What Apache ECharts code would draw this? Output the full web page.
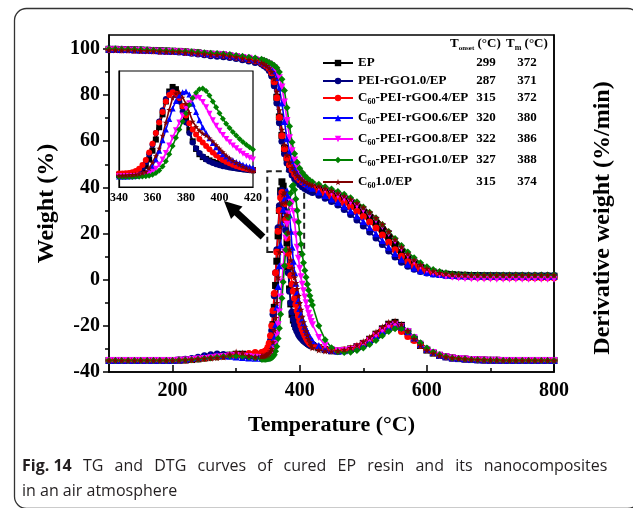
<!DOCTYPE html>
<html>
<head>
<meta charset="utf-8">
<script src="https://cdn.jsdelivr.net/npm/echarts@6/dist/echarts.min.js"></script>
<style>
html,body{margin:0;padding:0;background:#fff;}
#c{width:633px;height:508px;}
</style>
</head>
<body>
<div id="c"></div>
<script>
// ---------- DATA ----------
// temperature grid of the TG curves
const T = [100,110,120,130,140,150,160,170,180,190,200,210,220,230,240,250,260,270,280,290,300,310,320,330,
  340,344,348,352,356,360,364,368,372,376,380,384,388,392,396,400,404,408,412,416,420,
  430,440,450,460,470,480,490,500,510,520,530,540,550,560,570,580,590,600,610,620,630,640,650,660,670,680,690,700,710,720,730,740,750,760,770,780,790,800];
// temperature grid of the DTG curves (finer around the main peak)
const TD = [100,110,120,130,140,150,160,170,180,190,200,210,220,230,240,250,260,270,280,290,300,310,320,330,
  340,342,344,346,348,350,352,354,356,358,360,362,364,366,368,370,372,374,376,378,380,382,384,386,388,390,392,394,396,398,400,402,404,406,408,410,412,414,416,418,420,
  430,440,450,460,470,480,490,500,510,520,530,540,550,560,570,580,590,600,610,620,630,640,650,660,670,680,690,700,710,720,730,740,750,760,770,780,790,800];

const names = ['EP','PEI-rGO1.0/EP','C60-PEI-rGO0.4/EP','C60-PEI-rGO0.6/EP','C60-PEI-rGO0.8/EP','C60-PEI-rGO1.0/EP','C601.0/EP'];
const tOnset = [299,287,315,320,322,327,315];
const tMax = [372,371,372,380,386,388,374];
const xTicks = [200,400,600,800];
const xMinorTicks = [300,500,700];
const yTicks = [-40,-20,0,20,40,60,80,100];
const yMinorTicks = [-30,-10,10,30,50,70,90];
const insetTicks = [340,360,380,400,420];

// TG curves (Weight %)
const tgEP = [99.8,99.8,99.7,99.7,99.6,99.5,99.4,99.3,99.2,99.1,99.0,98.9,98.7,98.5,98.3,98.0,97.7,97.6,97.4,97.0,96.6,96.1,95.6,95.0,
  94.2,93.6,92.9,91.8,89.7,86.0,79.0,70.5,62.5,56.8,52.8,49.8,47.5,45.7,44.3,43.2,42.3,41.6,41.0,40.5,40.0,
  39.0,38.0,37.0,35.9,34.6,33.0,31.2,29.2,27.0,24.5,21.6,18.4,15.0,11.8,9.0,6.8,5.2,4.1,3.3,2.8,2.4,2.2,2.0,1.9,1.8,1.8,1.7,1.7,1.7,1.6,1.6,1.6,1.6,1.5,1.5,1.5,1.5,1.5];
const tgPEI = [99.9,99.8,99.8,99.7,99.6,99.5,99.4,99.3,99.1,99.0,98.8,98.6,98.4,98.1,97.8,97.4,97.0,96.8,96.6,96.2,95.8,95.3,94.7,94.1,
  93.4,92.7,91.9,90.6,88.2,84.0,76.5,68.0,60.0,54.5,50.5,47.6,45.4,43.7,42.3,41.2,40.3,39.5,38.9,38.3,37.8,
  36.6,35.3,33.9,32.3,30.4,28.2,25.8,23.3,20.7,18.0,15.2,12.4,9.8,7.6,5.8,4.5,3.5,2.9,2.5,2.2,2.0,1.9,1.9,1.8,1.8,1.8,1.8,1.8,1.8,1.8,1.8,1.8,1.8,1.8,1.8,1.8,1.8,1.8];
const tgC04 = [99.7,99.7,99.6,99.6,99.5,99.4,99.3,99.2,99.1,99.0,98.9,98.8,98.6,98.4,98.2,97.9,97.6,97.5,97.3,96.9,96.5,96.0,95.4,94.8,
  94.0,93.4,92.7,91.6,89.6,85.8,78.8,70.3,62.4,56.7,52.7,49.8,47.6,45.8,44.4,43.3,42.4,41.7,41.0,40.4,39.9,
  38.5,37.3,36.1,34.8,33.3,31.6,29.6,27.4,25.0,22.4,19.4,16.2,13.0,10.2,7.8,5.9,4.5,3.5,2.8,2.3,1.9,1.6,1.4,1.3,1.2,1.1,1.0,1.0,1.0,0.9,0.9,0.9,0.9,0.8,0.8,0.8,0.8,0.8];
const tgC06 = [99.8,99.8,99.7,99.7,99.6,99.5,99.4,99.3,99.2,99.1,99.0,98.9,98.7,98.5,98.3,98.0,97.8,97.7,97.5,97.1,96.7,96.3,95.8,95.3,
  94.7,94.2,93.6,93.0,92.0,90.4,87.6,83.0,76.5,68.5,61.0,55.5,51.5,48.5,46.3,44.6,43.2,42.1,41.1,40.3,39.6,
  38.0,36.5,35.0,33.5,31.8,29.8,27.6,25.2,22.6,19.9,17.0,14.1,11.3,8.8,6.7,5.1,3.9,3.1,2.6,2.2,1.9,1.8,1.7,1.6,1.6,1.6,1.5,1.5,1.5,1.5,1.5,1.5,1.5,1.5,1.5,1.5,1.5,1.5];
const tgC08 = [99.6,99.6,99.5,99.5,99.4,99.3,99.2,99.1,99.0,98.9,98.8,98.7,98.5,98.3,98.1,97.9,97.7,97.6,97.4,97.0,96.7,96.3,95.9,95.4,
  94.9,94.5,94.0,93.4,92.7,91.8,90.2,87.5,83.5,77.0,69.0,61.5,55.8,51.8,48.9,46.8,45.2,43.9,42.8,41.9,41.2,
  40.0,38.8,37.7,36.5,35.2,33.7,32.0,30.1,28.0,25.7,23.0,20.0,16.7,13.5,10.5,7.9,5.8,4.2,3.0,2.1,1.5,1.0,0.7,0.5,0.4,0.3,0.3,0.3,0.2,0.2,0.2,0.2,0.2,0.2,0.2,0.2,0.2,0.2];
const tgC10 = [99.9,99.9,99.8,99.8,99.7,99.6,99.5,99.4,99.3,99.2,99.1,99.0,98.9,98.7,98.5,98.3,98.1,98.0,97.8,97.5,97.1,96.8,96.4,96.0,
  95.5,95.1,94.6,94.1,93.5,92.8,91.8,90.0,86.8,82.0,74.5,66.5,59.5,54.5,50.9,48.3,46.4,45.0,43.9,43.0,42.3,
  41.3,40.3,39.3,38.2,37.0,35.5,33.8,31.5,29.2,26.7,23.9,20.9,17.8,14.8,12.0,9.5,7.3,5.6,4.4,3.5,3.0,2.6,2.4,2.2,2.1,2.1,2.0,2.0,2.0,2.0,2.0,2.0,2.0,2.0,2.0,2.0,2.0,2.0];
const tgC60 = [99.5,99.5,99.4,99.4,99.3,99.2,99.1,99.0,98.9,98.8,98.7,98.6,98.4,98.2,98.0,97.7,97.5,97.4,97.2,96.8,96.4,95.9,95.3,94.7,
  94.0,93.4,92.7,91.7,90.1,87.0,81.5,73.5,65.0,58.5,54.0,50.8,48.5,46.6,45.1,44.0,43.1,42.4,41.8,41.3,40.9,
  40.4,39.5,38.5,37.4,36.2,34.8,33.2,31.3,29.2,26.8,24.0,20.8,17.4,14.1,11.1,8.5,6.4,4.8,3.7,3.0,2.6,2.3,2.2,2.1,2.0,2.0,2.0,2.0,2.0,2.0,2.0,2.0,2.0,2.0,2.0,2.0,2.0,2.0];

// DTG curves on grid TD (plotted in the weight-axis frame)
const dtgEP = [-35.0,-35.0,-35.0,-35.0,-35.0,-35.0,-35.0,-35.0,-35.0,-35.0,-35.0,-34.9,-34.8,-34.6,-34.3,-33.9,-33.5,-33.2,-33.0,-32.7,-32.3,-32.3,-32.6,-32.8,
  -32.5,-32.4,-32.3,-32.1,-31.8,-31.3,-30.5,-28.5,-25.0,-19.5,-12.0,-2.5,8.0,19.0,30.0,38.5,42.4,40.5,35.0,26.0,16.0,5.5,-4.0,-10.5,-15.0,-17.5,-19.0,-20.3,-21.5,-22.5,-23.5,-24.3,-25.0,-25.6,-26.2,-26.7,-27.2,-27.6,-28.0,-28.3,-28.6,
  -29.5,-30.3,-30.8,-30.9,-30.6,-30.0,-29.0,-27.6,-25.8,-23.6,-21.3,-19.3,-18.5,-19.8,-22.5,-25.8,-28.5,-30.5,-31.8,-32.8,-33.4,-33.9,-34.2,-34.4,-34.6,-34.7,-34.8,-34.9,-34.9,-35.0,-35.0,-35.0,-35.0,-35.0,-35.0,-35.0,-35.0,-35.0];
const dtgPEI = [-35.0,-35.0,-35.0,-35.0,-35.0,-35.0,-35.0,-35.0,-35.0,-35.0,-35.0,-34.8,-34.5,-34.1,-33.6,-33.0,-32.5,-32.2,-32.4,-32.8,-33.0,-33.3,-33.5,-33.6,
  -33.5,-33.4,-33.2,-32.9,-32.5,-31.3,-29.5,-26.3,-22.0,-15.0,-7.0,3.0,13.0,22.5,32.0,37.0,38.5,35.5,30.0,21.5,12.0,3.0,-5.0,-10.0,-14.0,-17.0,-19.5,-21.2,-22.5,-23.6,-24.5,-25.2,-25.8,-26.3,-26.8,-27.2,-27.6,-28.0,-28.3,-28.6,-28.8,
  -29.3,-30.2,-30.8,-31.0,-30.8,-30.3,-29.4,-28.1,-26.4,-24.4,-22.3,-20.5,-19.6,-20.3,-22.3,-25.0,-27.8,-30.0,-31.6,-32.7,-33.4,-33.9,-34.2,-34.4,-34.6,-34.7,-34.8,-34.9,-34.9,-35.0,-35.0,-35.0,-35.0,-35.0,-35.0,-35.0,-35.0,-35.0];
const dtgC04 = [-35.0,-35.0,-35.0,-35.0,-35.0,-35.0,-35.0,-35.0,-35.0,-35.0,-35.0,-34.9,-34.8,-34.6,-34.3,-34.0,-33.7,-33.4,-33.2,-33.0,-32.8,-32.6,-32.0,-31.5,
  -31.5,-31.4,-31.3,-31.0,-30.5,-29.3,-27.5,-24.3,-20.0,-13.5,-6.0,3.0,12.0,21.0,30.0,35.5,37.8,36.5,33.0,26.0,18.0,11.5,6.0,1.8,-2.0,-5.0,-8.0,-10.8,-13.5,-15.9,-18.0,-19.9,-21.5,-22.8,-24.0,-25.1,-26.0,-26.8,-27.5,-28.0,-28.5,
  -29.3,-30.2,-30.7,-30.8,-30.5,-29.9,-28.9,-27.6,-25.9,-23.9,-21.9,-20.4,-20.6,-22.5,-24.6,-26.4,-28.4,-30.3,-31.7,-32.7,-33.4,-33.9,-34.2,-34.4,-34.6,-34.7,-34.8,-34.9,-34.9,-35.0,-35.0,-35.0,-35.0,-35.0,-35.0,-35.0,-35.0,-35.0];
const dtgC06 = [-35.0,-35.0,-35.0,-35.0,-35.0,-35.0,-35.0,-35.0,-35.0,-35.0,-35.0,-34.8,-34.5,-34.1,-33.7,-33.2,-32.8,-32.6,-32.8,-33.2,-33.5,-33.7,-33.9,-34.0,
  -34.0,-34.0,-34.0,-33.9,-33.8,-33.5,-33.0,-32.0,-30.5,-28.3,-25.0,-19.5,-12.0,-3.0,6.0,15.0,24.0,30.5,35.0,37.8,38.5,36.0,28.0,21.0,14.0,8.0,3.0,-1.5,-5.5,-9.0,-12.5,-15.0,-17.0,-18.7,-20.2,-21.6,-22.8,-24.0,-25.0,-25.8,-26.5,
  -28.5,-29.9,-30.6,-30.9,-30.8,-30.3,-29.4,-28.1,-26.4,-24.4,-22.3,-20.6,-19.9,-20.6,-22.6,-25.3,-28.0,-30.1,-31.6,-32.7,-33.4,-33.9,-34.2,-34.4,-34.6,-34.7,-34.8,-34.9,-34.9,-35.0,-35.0,-35.0,-35.0,-35.0,-35.0,-35.0,-35.0,-35.0];
const dtgC08 = [-35.0,-35.0,-35.0,-35.0,-35.0,-35.0,-35.0,-35.0,-35.0,-35.0,-35.0,-34.9,-34.8,-34.6,-34.4,-34.1,-33.8,-33.5,-33.3,-33.0,-32.8,-33.0,-33.3,-33.6,
  -33.8,-33.8,-33.8,-33.8,-33.7,-33.6,-33.4,-33.1,-32.5,-31.5,-30.0,-27.5,-24.0,-19.5,-14.0,-7.5,-1.0,5.5,12.0,18.0,24.0,28.5,32.0,33.5,33.0,29.5,25.0,19.5,14.0,9.3,5.0,1.3,-2.0,-4.8,-7.5,-10.0,-12.5,-14.6,-16.5,-18.1,-19.5,
  -25.0,-28.5,-30.2,-30.8,-30.7,-30.2,-29.3,-28.0,-26.3,-24.2,-22.0,-20.2,-19.5,-20.3,-22.4,-25.2,-28.0,-30.2,-31.6,-32.7,-33.4,-33.9,-34.2,-34.4,-34.6,-34.7,-34.8,-34.9,-34.9,-35.0,-35.0,-35.0,-35.0,-35.0,-35.0,-35.0,-35.0,-35.0];
const dtgC10 = [-35.0,-35.0,-35.0,-35.0,-35.0,-35.0,-35.0,-35.0,-35.0,-35.0,-35.0,-34.9,-34.8,-34.7,-34.5,-34.2,-33.9,-33.6,-33.3,-33.1,-33.0,-33.2,-33.5,-33.8,
  -34.5,-34.5,-34.5,-34.5,-34.4,-34.3,-34.2,-34.0,-33.8,-33.3,-32.5,-31.0,-29.0,-25.5,-21.0,-15.0,-8.0,-1.0,6.0,13.0,20.0,27.0,33.0,37.5,40.5,41.0,39.0,35.0,30.0,25.0,20.0,15.3,11.0,7.3,4.0,1.0,-2.0,-4.6,-7.0,-9.1,-11.0,
  -20.0,-26.0,-29.5,-31.2,-31.6,-31.4,-30.7,-29.6,-28.1,-26.3,-24.3,-22.5,-21.3,-21.2,-22.5,-24.8,-27.3,-29.6,-31.3,-32.5,-33.3,-33.9,-34.2,-34.4,-34.6,-34.7,-34.8,-34.9,-34.9,-35.0,-35.0,-35.0,-35.0,-35.0,-35.0,-35.0,-35.0,-35.0];
const dtgC60 = [-35.0,-35.0,-35.0,-35.0,-35.0,-35.0,-35.0,-35.0,-35.0,-35.0,-35.0,-34.9,-34.8,-34.6,-34.4,-34.2,-34.0,-33.8,-33.5,-32.3,-31.3,-31.8,-33.0,-33.5,
  -33.2,-33.1,-33.0,-32.8,-32.6,-32.3,-31.8,-31.0,-30.0,-27.0,-22.0,-16.5,-10.0,1.0,12.0,23.0,33.0,37.0,37.8,33.5,28.0,20.5,13.0,8.5,5.0,2.8,1.0,-1.4,-4.0,-7.0,-10.0,-13.0,-16.0,-18.4,-20.5,-22.3,-24.0,-25.6,-27.0,-28.3,-29.5,
  -30.5,-30.9,-31.0,-30.8,-30.3,-29.5,-28.3,-26.8,-24.9,-22.7,-20.4,-18.5,-17.9,-19.3,-22.2,-25.6,-28.5,-30.6,-31.9,-32.9,-33.5,-33.9,-34.2,-34.4,-34.6,-34.7,-34.8,-34.9,-34.9,-35.0,-35.0,-35.0,-35.0,-35.0,-35.0,-35.0,-35.0,-35.0];

const tgAll = [tgEP,tgPEI,tgC04,tgC06,tgC08,tgC10,tgC60];
const dtgAll = [dtgEP,dtgPEI,dtgC04,dtgC06,dtgC08,dtgC10,dtgC60];

const captionWords = ['Fig.','14','TG','and','DTG','curves','of','cured','EP','resin','and','its','nanocomposites'];
const captionLine2 = 'in an air atmosphere';

// ---------- STYLE ----------
const SERIF = "'Liberation Serif','Times New Roman',serif";
const SANS = "'Open Sans','Noto Sans',sans-serif";
const STAR = 'path://M50,0 L61,35 L98,35 L68,57 L79,91 L50,70 L21,91 L32,57 L2,35 L39,35 Z';
const colors = ['#000000','#00007f','#ff0000','#0000ff','#ff00ff','#008000','#800000'];
const symbols = ['rect','circle','circle','triangle','triangle','diamond',STAR];
const rotates = [0,0,0,0,180,0,0];
const rowCenters = [63,81,98,118,139,160,182];

const pairs = (xs, ys) => xs.map((t,i)=>[t, ys[i]]);
const insetPairs = ys => TD.map((t,i)=>[t, ys[i]]).filter(p => p[0] >= 340 && p[0] <= 420);

const series = [];
function lineSeries(i, data, xi, yi, size, extra) {
  return Object.assign({
    type:'line', name:names[i], data:data, xAxisIndex:xi, yAxisIndex:yi,
    symbol:symbols[i], symbolRotate:rotates[i], symbolSize:size, showSymbol:true,
    color:colors[i], lineStyle:{color:colors[i], width:1.6},
    itemStyle:{color:colors[i]}, animation:false, silent:true, clip:true
  }, extra||{});
}
for (let i=0;i<7;i++) series.push(lineSeries(i, pairs(T, tgAll[i]), 0, 0, 7));
for (let i=0;i<7;i++) {
  const extra = {};
  if (i === 6) {
    extra.markArea = {silent:true, itemStyle:{color:'rgba(0,0,0,0)', borderColor:'#222', borderWidth:2, borderType:[6,4]},
      data:[[{coord:[349,12]},{coord:[407,47]}]]};
  }
  series.push(lineSeries(i, pairs(TD, dtgAll[i]), 0, 0, 7, extra));
}
for (let i=0;i<7;i++) series.push(lineSeries(i, insetPairs(dtgAll[i]), 1, 2, 6, {z:10}));

const baseTxt = {fontFamily:SERIF, fontWeight:'bold', fontSize:13, color:'#000', lineHeight:16};
const rich = {
  w: Object.assign({}, baseTxt, {width:112}),
  c: Object.assign({}, baseTxt, {width:9.5}),
  s: Object.assign({}, baseTxt, {fontSize:8, lineHeight:8, width:8, verticalAlign:'bottom'}),
  m: Object.assign({}, baseTxt, {width:94.5}),
  a: Object.assign({}, baseTxt, {width:32, align:'center'}),
  b: Object.assign({}, baseTxt, {width:50, align:'center'})
};
function fmt(name) {
  const i = names.indexOf(name);
  let head;
  if (name.indexOf('C60') === 0) head = '{c|C}{s|60}{m|' + name.slice(3) + '}';
  else head = '{w|' + name + '}';
  return head + '{a|' + tOnset[i] + '}{b|' + tMax[i] + '}';
}
const legends = names.map((n,i)=>({
  data:[n], left:322, top:rowCenters[i]-8, itemWidth:30, itemHeight:8, padding:0,
  selectedMode:false, formatter:fmt,
  textStyle:Object.assign({}, baseTxt, {rich:rich})
}));

// justified first caption line
const capText = captionWords.map((w,i)=> i < 2 ? '{b|' + w + '}' : '{n|' + w + '}')
  .map((s,i)=> i === 0 ? s : (i === 1 ? '{n| }' + s : '{g| }' + s)).join('');

const axisLineStyle = {color:'#000', width:1.5};
const chart = echarts.init(document.getElementById('c'), null, {renderer:'canvas'});
chart.setOption({
  animation:false,
  backgroundColor:'#fff',
  legend: legends,
  grid:[
    {left:109, right:79, top:35, bottom:136, show:true, borderColor:'#000', borderWidth:1.5, backgroundColor:'rgba(0,0,0,0)'},
    {left:119, top:71, width:134, height:116, show:true, borderColor:'#000', borderWidth:1.2, backgroundColor:'#fff', z:8}
  ],
  xAxis:[
    {gridIndex:0, type:'value', min:100, max:800, position:'bottom',
     axisLine:{show:true, onZero:false, lineStyle:axisLineStyle},
     axisTick:{show:true, inside:true, length:7, customValues:xTicks, lineStyle:axisLineStyle},
     axisLabel:{customValues:xTicks, fontFamily:SERIF, fontWeight:'bold', fontSize:20, color:'#000', margin:9},
     splitLine:{show:false},
     name:'Temperature (°C)', nameLocation:'middle', nameGap:42,
     nameTextStyle:{fontFamily:SERIF, fontWeight:'bold', fontSize:22, color:'#000'}},
    {gridIndex:1, type:'value', min:340, max:420, interval:20, z:9,
     axisLine:{show:true, onZero:false, lineStyle:{color:'#000', width:1.2}},
     axisTick:{show:false},
     axisLabel:{customValues:insetTicks, fontFamily:SERIF, fontWeight:'bold', fontSize:12, color:'#000', margin:5},
     splitLine:{show:false}},
    {gridIndex:0, type:'value', min:100, max:800, position:'bottom', z:20,
     axisLine:{show:false, onZero:false}, axisLabel:{show:false}, splitLine:{show:false},
     axisTick:{show:true, inside:true, length:4, customValues:xMinorTicks, lineStyle:axisLineStyle}}
  ],
  yAxis:[
    {gridIndex:0, type:'value', min:-40, max:106, position:'left',
     axisLine:{show:true, onZero:false, lineStyle:axisLineStyle},
     axisTick:{show:true, length:6, customValues:yTicks, lineStyle:axisLineStyle},
     axisLabel:{customValues:yTicks, fontFamily:SERIF, fontWeight:'bold', fontSize:20, color:'#000', margin:9},
     splitLine:{show:false},
     name:'Weight (%)', nameLocation:'middle', nameGap:50, nameRotate:90,
     nameTextStyle:{fontFamily:SERIF, fontWeight:'bold', fontSize:24, color:'#000'}},
    {gridIndex:0, type:'value', min:-40, max:106, position:'right',
     axisLine:{show:true, onZero:false, lineStyle:axisLineStyle},
     axisTick:{show:false}, axisLabel:{show:false}, splitLine:{show:false}},
    {gridIndex:1, type:'value', min:-43, max:56, z:9,
     axisLine:{show:true, onZero:false, lineStyle:{color:'#000', width:1.2}},
     axisTick:{show:false}, axisLabel:{show:false}, splitLine:{show:false}},
    {gridIndex:0, type:'value', min:-40, max:106, position:'left', z:20,
     axisLine:{show:false, onZero:false}, axisLabel:{show:false}, splitLine:{show:false},
     axisTick:{show:true, length:4, customValues:yMinorTicks, lineStyle:axisLineStyle}}
  ],
  series: series,
  graphic:[
    {type:'rect', z:-1, silent:true, shape:{x:14.5, y:8.5, width:625, height:500, r:12},
     style:{fill:'none', stroke:'#333', lineWidth:1.3}},
    {type:'text', silent:true, style:{x:450, y:44, text:'{t|T}{s|onset}{t| (°C)}', verticalAlign:'middle',
      rich:{t:Object.assign({}, baseTxt), s:Object.assign({}, baseTxt, {fontSize:7, lineHeight:7, verticalAlign:'bottom'})}}},
    {type:'text', silent:true, style:{x:506, y:44, text:'{t|T}{s|m}{t| (°C)}', verticalAlign:'middle',
      rich:{t:Object.assign({}, baseTxt), s:Object.assign({}, baseTxt, {fontSize:8, lineHeight:8, verticalAlign:'bottom'})}}},
    {type:'text', silent:true, x:603, y:218, rotation:Math.PI/2,
     style:{text:'Derivative weight (%/min)', align:'center', verticalAlign:'middle',
      fontFamily:SERIF, fontWeight:'bold', fontSize:24, fill:'#000'}},
    {type:'polygon', silent:true, z:20, shape:{points:[[224,201],[242.5,206.5],[231,219]]}, style:{fill:'#000'}},
    {type:'line', silent:true, z:20, shape:{x1:236,y1:212,x2:263,y2:237}, style:{stroke:'#000', lineWidth:7}},
    {type:'text', silent:true, style:{x:22, y:466, verticalAlign:'middle', text:capText,
      rich:{
        b:{fontFamily:SANS, fontSize:16, fontWeight:'bold', fill:'#231f20'},
        n:{fontFamily:SANS, fontSize:16, fill:'#231f20'},
        g:{fontFamily:SANS, fontSize:16, width:11.2, fill:'#231f20'}
      }}},
    {type:'text', silent:true, style:{x:22, y:491, verticalAlign:'middle', text:captionLine2,
      fontFamily:SANS, fontSize:16, fill:'#231f20'}}
  ]
});
</script>
</body>
</html>
